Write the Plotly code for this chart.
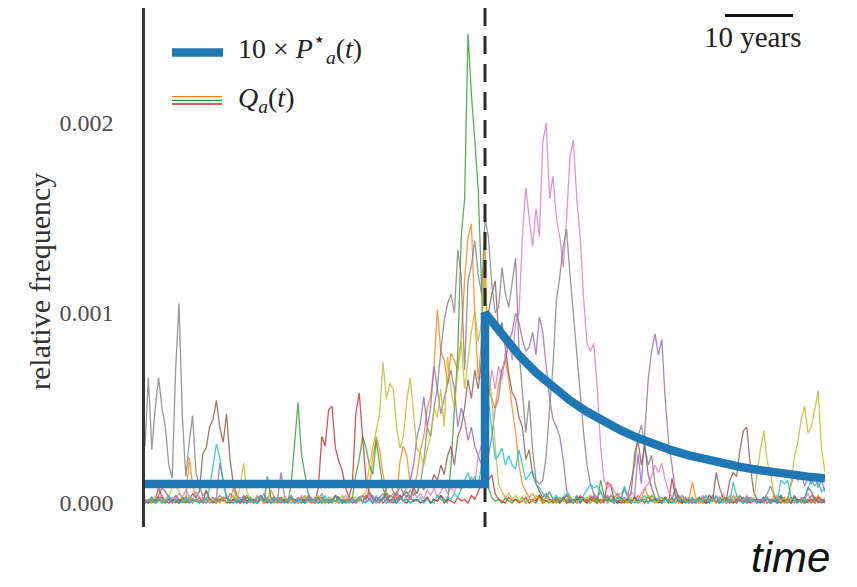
import numpy as np
import plotly.graph_objects as go

# Time grid (years) shared by every simulated frequency trajectory
T_STEP = 0.5
YEARS = 100
JUMP_T = 50.0            # time of the shift in the expected frequency
SCALE_BAR_START = 85.3   # left end of the "10 years" scale bar
SCALE_BAR_YEARS = 10

UNIT = 1e-5  # trajectory values below are in units of 1e-5 relative frequency

# 10 x P*_a(t): expected frequency (units of 1e-5)
P_T = [0, 50, 50, 52.5, 55, 57.5, 60, 62.5, 65, 67.5, 70, 72.5, 75, 77.5, 80,
       82.5, 85, 87.5, 90, 92.5, 95, 97.5, 100]
P_VAL = [10, 10, 100, 88.1, 77.8, 68.7, 60.9, 54.0, 48.0, 42.7, 38.2, 34.2, 30.7,
         27.7, 25.1, 22.8, 20.7, 19.0, 17.5, 16.1, 15.0, 13.9, 13.1]

# Q_a(t): observed frequency trajectories, one value every half year (units of 1e-5)
Q_ORANGE = [
    0, 2, 1, 0, 3, 1, 2, 0, 1, 4, 2, 0, 1, 24, 10, 2, 1, 0, 3, 2,
    1, 0, 2, 3, 0, 1, 8, 2, 0, 3, 1, 0, 2, 1, 4, 2, 0, 7, 3, 1,
    2, 1, 0, 3, 1, 2, 0, 4, 1, 0, 2, 3, 1, 0, 2, 1, 4, 0, 2, 1,
    3, 0, 2, 1, 4, 2, 8, 24, 35, 28, 15, 6, 3, 5, 2, 22, 30, 25, 10, 6,
    15, 28, 35, 50, 56, 72, 102, 80, 75, 63, 79, 75, 70, 87, 117, 140, 147, 100, 65, 85,
    138, 60, 55, 50, 62, 70, 75, 65, 50, 37, 20, 10, 6, 3, 5, 2, 4, 1, 3, 6,
    2, 0, 3, 1, 2, 0, 1, 3, 0, 2, 1, 4, 2, 0, 1, 3, 0, 2, 1, 0,
    3, 1, 0, 2, 1, 4, 2, 8, 3, 1, 0, 2, 1, 3, 0, 1, 2, 0, 4, 1,
    2, 11, 3, 0, 1, 2, 0, 3, 1, 0, 2, 1, 4, 0, 2, 1, 3, 0, 1, 2,
    0, 1, 3, 2, 0, 4, 1, 2, 0, 3, 1, 0, 2, 1, 3, 0, 2, 1, 4, 2,
    1]
Q_GREEN = [
    1, 0, 2, 0, 1, 3, 0, 2, 1, 0, 2, 1, 0, 3, 1, 2, 0, 1, 0, 2,
    0, 2, 1, 3, 0, 1, 2, 0, 1, 2, 0, 3, 1, 0, 2, 1, 14, 3, 1, 0,
    2, 1, 0, 10, 30, 53, 26, 15, 5, 2, 1, 3, 0, 2, 1, 0, 4, 1, 2, 0,
    1, 3, 15, 23, 35, 29, 20, 15, 33, 20, 8, 3, 1, 2, 0, 4, 1, 2, 0, 1,
    2, 0, 1, 3, 0, 2, 1, 4, 2, 0, 20, 50, 79, 140, 160, 247, 215, 191, 165, 114,
    44, 8, 3, 1, 2, 0, 3, 1, 0, 2, 1, 3, 0, 2, 1, 0, 4, 2, 1, 0,
    2, 1, 0, 3, 1, 2, 0, 4, 1, 2, 0, 3, 1, 0, 12, 4, 2, 1, 0, 3,
    1, 0, 2, 1, 3, 0, 1, 2, 0, 4, 2, 1, 0, 3, 1, 2, 8, 3, 0, 1,
    2, 1, 0, 3, 1, 0, 2, 1, 4, 0, 2, 3, 1, 0, 2, 1, 0, 3, 2, 1,
    0, 2, 1, 3, 0, 1, 2, 4, 1, 0, 3, 1, 2, 0, 1, 2, 0, 3, 1, 2,
    1]
Q_RED = [
    0, 1, 0, 2, 8, 3, 1, 0, 2, 1, 0, 3, 1, 0, 2, 1, 3, 0, 7, 2,
    1, 0, 2, 1, 3, 0, 2, 1, 0, 4, 1, 2, 0, 1, 3, 0, 2, 1, 0, 2,
    3, 1, 0, 2, 1, 0, 3, 1, 2, 0, 1, 8, 35, 30, 49, 51, 29, 22, 17, 8,
    3, 10, 47, 58, 35, 12, 5, 2, 1, 3, 0, 2, 1, 0, 2, 4, 1, 0, 3, 1,
    2, 0, 1, 3, 0, 2, 1, 4, 0, 2, 1, 0, 3, 1, 2, 0, 4, 2, 6, 10,
    19, 12, 15, 5, 2, 1, 0, 3, 1, 2, 0, 1, 3, 0, 2, 1, 4, 0, 1, 2,
    0, 2, 1, 3, 0, 1, 2, 0, 4, 1, 2, 0, 3, 1, 2, 0, 11, 9, 2, 1,
    0, 2, 1, 0, 3, 1, 2, 0, 4, 1, 2, 0, 1, 3, 0, 13, 4, 1, 0, 2,
    1, 0, 2, 1, 3, 0, 1, 2, 0, 1, 3, 0, 2, 1, 0, 4, 1, 2, 0, 1,
    2, 0, 1, 3, 0, 2, 1, 0, 2, 1, 0, 3, 1, 2, 0, 1, 2, 0, 3, 1,
    0]
Q_PURPLE = [
    1, 0, 2, 1, 3, 0, 1, 2, 0, 4, 1, 2, 3, 1, 0, 2, 1, 3, 2, 0,
    1, 3, 21, 12, 3, 1, 0, 2, 1, 3, 0, 2, 1, 0, 2, 1, 3, 0, 1, 2,
    16, 4, 1, 0, 2, 1, 3, 0, 1, 2, 0, 3, 1, 0, 2, 1, 4, 2, 0, 1,
    2, 0, 1, 3, 1, 0, 2, 4, 1, 3, 5, 2, 4, 3, 6, 2, 5, 8, 12, 20,
    35, 42, 56, 40, 50, 72, 60, 47, 55, 62, 70, 60, 40, 50, 44, 33, 40, 30, 25, 20,
    20, 25, 35, 50, 55, 70, 75, 85, 90, 100, 95, 86, 80, 82, 90, 78, 98, 90, 72, 55,
    44, 40, 35, 23, 7, 3, 1, 2, 0, 3, 1, 2, 4, 1, 0, 2, 3, 1, 2, 0,
    1, 3, 2, 0, 4, 26, 10, 40, 65, 80, 89, 78, 86, 55, 32, 20, 6, 2, 1, 2,
    0, 2, 1, 3, 0, 1, 2, 4, 1, 0, 3, 2, 1, 0, 2, 1, 3, 0, 2, 1,
    2, 1, 0, 3, 1, 2, 0, 4, 1, 2, 10, 14, 12, 16, 9, 13, 10, 15, 8, 12,
    6]
Q_BROWN = [
    2, 0, 3, 1, 4, 8, 6, 3, 1, 2, 0, 3, 1, 2, 5, 3, 6, 26, 29, 40,
    44, 54, 40, 32, 47, 23, 10, 4, 2, 0, 3, 1, 2, 0, 4, 1, 0, 2, 3, 1,
    0, 2, 1, 3, 0, 1, 2, 0, 4, 1, 2, 0, 3, 1, 0, 2, 1, 3, 0, 2,
    1, 3, 0, 2, 1, 4, 2, 0, 3, 1, 2, 5, 1, 3, 0, 2, 4, 6, 3, 8,
    5, 10, 7, 12, 9, 15, 12, 20, 15, 25, 30, 20, 35, 40, 50, 65, 55, 70, 60, 75,
    90, 100, 110, 117, 89, 95, 80, 68, 58, 55, 45, 40, 23, 28, 15, 10, 6, 3, 5, 2,
    1, 3, 0, 2, 4, 1, 0, 2, 3, 1, 0, 2, 1, 3, 0, 2, 1, 4, 2, 0,
    3, 1, 2, 5, 26, 33, 20, 30, 15, 8, 3, 1, 0, 2, 1, 3, 0, 2, 1, 0,
    2, 0, 1, 3, 1, 0, 4, 2, 16, 8, 3, 2, 12, 16, 14, 28, 38, 40, 20, 6,
    2, 1, 3, 0, 2, 1, 0, 3, 1, 2, 0, 4, 1, 2, 3, 8, 6, 2, 1, 0,
    1]
Q_PINK = [
    2, 1, 3, 0, 2, 4, 1, 0, 3, 2, 5, 3, 7, 4, 2, 6, 3, 1, 0, 2,
    1, 3, 0, 2, 4, 1, 0, 2, 3, 1, 0, 2, 1, 4, 2, 0, 3, 1, 2, 0,
    2, 0, 1, 3, 1, 0, 4, 2, 1, 3, 0, 1, 2, 0, 3, 2, 1, 0, 2, 4,
    1, 2, 0, 3, 1, 2, 4, 1, 0, 2, 3, 1, 0, 2, 5, 3, 1, 4, 2, 6,
    3, 5, 2, 7, 4, 8, 3, 6, 9, 5, 8, 6, 10, 7, 12, 9, 14, 10, 25, 30,
    20, 55, 70, 60, 72, 65, 80, 88, 75, 95, 100, 140, 166, 150, 135, 155, 140, 190, 200, 160,
    172, 150, 140, 124, 150, 182, 191, 160, 140, 108, 84, 80, 84, 61, 30, 12, 8, 10, 6, 4,
    5, 7, 3, 6, 4, 2, 5, 8, 10, 14, 20, 16, 21, 12, 6, 3, 5, 2, 4, 1,
    3, 0, 2, 1, 4, 2, 0, 3, 1, 2, 5, 1, 0, 2, 3, 1, 0, 4, 2, 1,
    0, 2, 1, 3, 0, 2, 4, 1, 3, 0, 2, 1, 0, 3, 2, 5, 1, 0, 2, 1,
    3]
Q_GRAY = [
    30, 66, 28, 50, 66, 50, 40, 20, 13, 70, 105, 45, 14, 32, 46, 16, 9, 4, 6, 2,
    3, 1, 4, 2, 0, 5, 3, 1, 0, 2, 4, 1, 0, 3, 2, 5, 1, 0, 2, 3,
    1, 0, 2, 4, 1, 3, 0, 2, 1, 0, 3, 2, 5, 1, 0, 2, 4, 3, 1, 0,
    2, 1, 0, 3, 4, 2, 6, 3, 1, 0, 2, 8, 12, 6, 4, 9, 5, 3, 7, 4,
    6, 10, 22, 40, 35, 50, 61, 80, 96, 105, 110, 100, 133, 120, 70, 117, 125, 138, 120, 110,
    150, 140, 115, 100, 103, 124, 110, 103, 115, 129, 80, 60, 37, 54, 28, 12, 10, 12, 25, 50,
    72, 107, 119, 135, 144, 120, 100, 82, 58, 37, 20, 10, 5, 3, 6, 2, 4, 1, 3, 5,
    2, 8, 4, 12, 20, 35, 41, 30, 20, 25, 10, 4, 2, 3, 1, 0, 2, 4, 1, 3,
    0, 2, 1, 3, 0, 1, 4, 2, 0, 3, 1, 2, 0, 4, 1, 2, 0, 1, 3, 2,
    1, 0, 2, 5, 9, 4, 1, 0, 2, 1, 0, 3, 1, 2, 0, 1, 4, 2, 0, 1,
    2]
Q_OLIVE = [
    1, 2, 0, 3, 1, 0, 2, 4, 8, 9, 6, 2, 1, 3, 0, 2, 1, 0, 3, 1,
    2, 0, 1, 3, 0, 2, 4, 1, 9, 21, 6, 2, 0, 1, 3, 0, 2, 1, 0, 2,
    1, 3, 0, 2, 1, 0, 2, 3, 1, 0, 2, 4, 1, 0, 3, 2, 0, 1, 4, 2,
    0, 2, 3, 1, 4, 6, 20, 29, 38, 47, 74, 55, 63, 60, 40, 29, 35, 54, 66, 45,
    28, 26, 20, 28, 35, 50, 45, 60, 40, 77, 60, 50, 70, 85, 60, 75, 90, 101, 85, 95,
    120, 70, 54, 30, 10, 6, 3, 5, 2, 4, 1, 3, 0, 2, 1, 4, 2, 0, 3, 1,
    2, 0, 3, 1, 2, 4, 1, 0, 2, 1, 3, 0, 2, 1, 0, 3, 1, 2, 0, 4,
    1, 2, 0, 3, 1, 0, 2, 1, 4, 2, 0, 1, 3, 0, 2, 1, 0, 2, 3, 1,
    0, 3, 1, 2, 0, 4, 1, 2, 0, 1, 3, 0, 2, 1, 4, 2, 0, 3, 1, 2,
    15, 28, 38, 22, 15, 5, 2, 1, 3, 0, 10, 24, 32, 44, 51, 37, 40, 50, 59, 28,
    16]
Q_CYAN = [
    0, 1, 3, 0, 2, 1, 0, 4, 1, 2, 0, 1, 3, 0, 2, 1, 0, 2, 1, 8,
    19, 31, 24, 10, 3, 1, 0, 2, 1, 3, 0, 2, 1, 0, 4, 1, 2, 0, 3, 1,
    2, 0, 1, 3, 0, 2, 1, 0, 3, 1, 2, 0, 1, 4, 0, 2, 1, 3, 0, 1,
    0, 2, 1, 3, 0, 1, 2, 0, 4, 1, 3, 0, 2, 1, 0, 3, 1, 2, 0, 2,
    1, 3, 0, 2, 1, 0, 4, 2, 1, 3, 2, 5, 3, 8, 12, 16, 10, 14, 9, 20,
    40, 54, 37, 23, 25, 29, 20, 25, 20, 18, 28, 20, 12, 15, 17, 10, 8, 5, 3, 6,
    2, 4, 1, 3, 5, 2, 0, 3, 1, 4, 7, 10, 8, 9, 6, 3, 1, 2, 0, 3,
    2, 9, 3, 1, 0, 2, 1, 4, 0, 2, 1, 3, 0, 2, 1, 0, 3, 1, 2, 0,
    1, 3, 0, 2, 1, 4, 0, 2, 3, 1, 0, 2, 1, 11, 4, 2, 0, 3, 1, 2,
    0, 1, 3, 2, 0, 2, 1, 12, 10, 12, 3, 1, 0, 2, 1, 8, 12, 9, 11, 6,
    8]

Q_SERIES = [
    ("#ff7f0e", Q_ORANGE), ("#2ca02c", Q_GREEN), ("#d62728", Q_RED),
    ("#9467bd", Q_PURPLE), ("#8c564b", Q_BROWN), ("#e377c2", Q_PINK),
    ("#7f7f7f", Q_GRAY), ("#bcbd22", Q_OLIVE), ("#17becf", Q_CYAN),
]

t = np.arange(0, YEARS + T_STEP / 2, T_STEP)

Y_MIN, Y_MAX = -0.000126, 0.002605
SERIF = "Liberation Serif, DejaVu Serif, serif"

fig = go.Figure()

for color, vals in Q_SERIES:
    assert len(vals) == len(t)
    fig.add_trace(go.Scatter(
        x=t, y=np.array(vals) * UNIT, mode="lines",
        line=dict(color=color, width=1.3), opacity=0.8,
        showlegend=False, hoverinfo="skip"))

# vertical dashed marker at the jump time
fig.add_trace(go.Scatter(
    x=[JUMP_T, JUMP_T], y=[Y_MAX, Y_MIN], mode="lines",
    line=dict(color="#2a2a2a", width=3, dash="18px,10px"),
    showlegend=False, hoverinfo="skip"))

# expected frequency (x10)
fig.add_trace(go.Scatter(
    x=P_T, y=np.array(P_VAL) * UNIT, mode="lines",
    line=dict(color="#1f77b4", width=8.5),
    showlegend=False, hoverinfo="skip"))

L, R, TOP, BOT = 145, 32, 8, 60
W, H = 857, 587
PW, PH = W - L - R, H - TOP - BOT


def px(xp):
    return (xp - L) / PW


def py(yp):
    return (H - BOT - yp) / PH


shapes = [
    # legend handles
    dict(type="line", xref="paper", yref="paper", x0=px(172), x1=px(223),
         y0=py(52.5), y1=py(52.5), line=dict(color="#1f77b4", width=8.5)),
    dict(type="line", xref="paper", yref="paper", x0=px(172), x1=px(222),
         y0=py(96.7), y1=py(96.7), line=dict(color="#ff7f0e", width=1.3)),
    dict(type="line", xref="paper", yref="paper", x0=px(172), x1=px(222),
         y0=py(100.3), y1=py(100.3), line=dict(color="#2ca02c", width=1.3)),
    dict(type="line", xref="paper", yref="paper", x0=px(172), x1=px(222),
         y0=py(104), y1=py(104), line=dict(color="#d62728", width=1.3)),
    # scale bar
    dict(type="line", xref="x", yref="paper", x0=SCALE_BAR_START,
         x1=SCALE_BAR_START + SCALE_BAR_YEARS, y0=py(15.5), y1=py(15.5),
         line=dict(color="#111111", width=3)),
]

annotations = [
    dict(text="10 × <i>P</i><sup>⋆</sup><sub><i>a</i></sub>(<i>t</i>)",
         xref="paper", yref="paper", x=px(236), y=py(48),
         xanchor="left", yanchor="middle", showarrow=False,
         font=dict(family=SERIF, size=28, color="#222222")),
    dict(text="<i>Q</i><sub><i>a</i></sub>(<i>t</i>)",
         xref="paper", yref="paper", x=px(236), y=py(99),
         xanchor="left", yanchor="middle", showarrow=False,
         font=dict(family=SERIF, size=28, color="#222222")),
    dict(text=f"{SCALE_BAR_YEARS} years", xref="paper", yref="paper",
         x=px(752), y=py(37), xanchor="center", yanchor="middle",
         showarrow=False, font=dict(family=SERIF, size=29, color="#222222")),
    dict(text="<i>time</i>", xref="paper", yref="paper", x=px(790), y=py(557),
         xanchor="center", yanchor="middle", showarrow=False, borderpad=0,
         font=dict(family="Liberation Sans, Arial, sans-serif", size=42,
                   color="#111111")),
    dict(text="relative frequency", xref="paper", yref="paper", x=px(40),
         y=py(282), xanchor="center", yanchor="middle", textangle=-90,
         showarrow=False, font=dict(family=SERIF, size=30, color="#333333")),
]

fig.update_layout(
    width=W, height=H,
    margin=dict(l=L, r=R, t=TOP, b=BOT, pad=0),
    paper_bgcolor="white", plot_bgcolor="white",
    xaxis=dict(range=[0, YEARS], visible=False, fixedrange=True),
    yaxis=dict(range=[Y_MIN, Y_MAX], showgrid=False, zeroline=False,
               showline=True, linecolor="#333333", linewidth=2.5,
               ticks="", tickvals=[0, 0.001, 0.002],
               ticktext=["0.000", "0.001", "0.002"],
               ticklabelstandoff=24,
               tickfont=dict(family=SERIF, size=24, color="#4d4d4d")),
    shapes=shapes, annotations=annotations,
)

fig.write_html("out.html")
